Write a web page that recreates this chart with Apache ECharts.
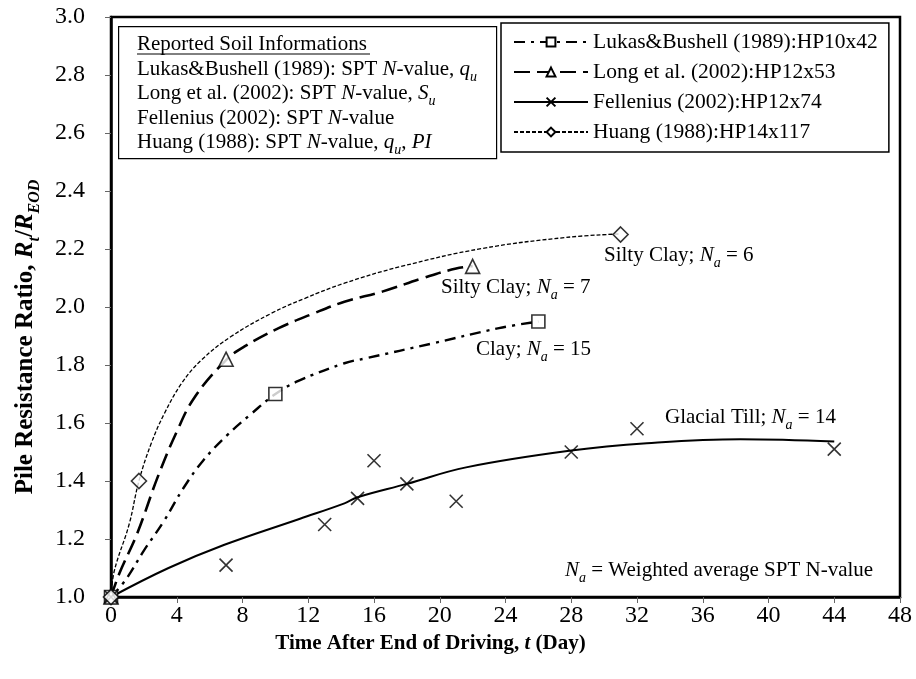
<!DOCTYPE html>
<html>
<head>
<meta charset="utf-8">
<script src="https://cdn.jsdelivr.net/npm/echarts@6/dist/echarts.min.js"></script>
<style>
html,body{margin:0;padding:0;background:#fff;}
#chart{width:916px;height:679px;}
</style>
</head>
<body>
<div id="chart"></div>
<script>
// measured points
const lukasT = [0, 10, 26];
const lukasR = [1.0, 1.70, 1.95];
const longT = [0, 7, 22];
const longR = [1.0, 1.82, 2.14];
const felT = [0, 7, 13, 15, 16, 18, 21, 28, 32, 44];
const felR = [1.0, 1.11, 1.25, 1.34, 1.47, 1.39, 1.33, 1.50, 1.58, 1.51];
const huangT = [0, 1.7, 31];
const huangR = [1.0, 1.40, 2.25];

// trend curves
const lukasTrendT = [0, 0.9, 2.0, 3.2, 4.4, 5.6, 7.1, 8.5, 10, 11.4, 14.2, 15.5, 19.6, 23.6, 26];
const lukasTrendR = [1.0, 1.06, 1.16, 1.26, 1.375, 1.47, 1.56, 1.63, 1.70, 1.745, 1.806, 1.823, 1.875, 1.927, 1.95];
const longTrendT = [0, 0.5, 1.6, 2.85, 4.0, 5.1, 7, 8.1, 10.2, 12.2, 14.2, 16.5, 19, 21, 22];
const longTrendR = [1.0, 1.08, 1.22, 1.415, 1.57, 1.69, 1.817, 1.863, 1.927, 1.975, 2.018, 2.053, 2.10, 2.133, 2.141];
const felTrendT = [0, 3.5, 6.9, 11.5, 14.2, 15, 18, 21.6, 28, 32.6, 38.3, 44];
const felTrendR = [1.0, 1.10, 1.18, 1.27, 1.323, 1.344, 1.39, 1.447, 1.505, 1.53, 1.544, 1.536];
const huangTrendT = [0, 0.2, 1.1, 1.7, 2.45, 3.25, 4.3, 5.5, 7.3, 9.75, 11.8, 14.2, 17.6, 22.6, 27.7, 31];
const huangTrendR = [1.0, 1.09, 1.25, 1.40, 1.53, 1.633, 1.737, 1.817, 1.898, 1.978, 2.03, 2.082, 2.139, 2.202, 2.24, 2.252];

const seriesNames = ['Lukas&Bushell (1989):HP10x42', 'Long et al. (2002):HP12x53', 'Fellenius (2002):HP12x74', 'Huang (1988):HP14x117'];
const infoTitle = 'Reported Soil Informations';
const infoLines = [
  '{n|Lukas&Bushell (1989): SPT }{i|N}{n|-value, }{i|q}{s|u}',
  '{n|Long et al. (2002): SPT }{i|N}{n|-value, }{i|S}{s|u}',
  '{n|Fellenius (2002): SPT }{i|N}{n|-value}',
  '{n|Huang (1988): SPT }{i|N}{n|-value, }{i|q}{s|u}{n|, }{i|PI}'
];

const FONT = '"Liberation Serif", "Times New Roman", serif';
const FS = 21;
const pair = (a, b) => a.map((v, i) => [v, b[i]]);
const crossPath = 'path://M0,0L10,10M0,10L10,0';

const rich = {
  i: {fontFamily: FONT, fontSize: FS, fontStyle: 'italic', color: '#000', verticalAlign: 'middle', lineHeight: 24},
  s: {fontFamily: FONT, fontSize: 14, fontStyle: 'italic', color: '#000', verticalAlign: 'bottom', lineHeight: 30},
  n: {fontFamily: FONT, fontSize: FS, color: '#000', verticalAlign: 'middle', lineHeight: 24}
};

function trendSeries(name, t, r, symbol, symSize, dash, width) {
  return {
    name: name, type: 'line', data: pair(t, r), smooth: 0.4,
    symbol: symbol, symbolSize: symSize, showSymbol: false,
    lineStyle: {color: '#000', width: width, type: dash},
    itemStyle: {color: '#fff', borderColor: '#000', borderWidth: 1.5},
    emphasis: {disabled: true}, z: 3
  };
}
function markerSeries(name, t, r, symbol, symSize, isCross) {
  return {
    name: name + ' data', type: 'scatter', data: pair(t, r),
    symbol: symbol, symbolSize: symSize,
    itemStyle: isCross ? {color: 'none', borderColor: '#000', borderWidth: 1.6} : {color: '#fff', borderColor: '#000', borderWidth: 1.6},
    emphasis: {disabled: true}, z: 5
  };
}

const infoGraphics = [
  {type: 'rect', left: 118, top: 26, shape: {width: 378, height: 132}, style: {fill: '#fff', stroke: '#000', lineWidth: 1.2}, z: 10},
  {type: 'text', left: 137, top: 34, z: 11, style: {text: infoTitle, fontFamily: FONT, fontSize: FS, fill: '#000'}},
  {type: 'line', z: 11, shape: {x1: 137, y1: 54, x2: 370, y2: 54}, style: {stroke: '#000', lineWidth: 1}}
];
infoLines.forEach((ln, k) => {
  infoGraphics.push({type: 'text', left: 137, top: 59 + k * 24.3, z: 11, style: {text: ln, rich: rich}});
});

const chart = echarts.init(document.getElementById('chart'), null, {renderer: 'canvas'});
const option = {
  backgroundColor: '#fff',
  animation: false,
  textStyle: {fontFamily: FONT},
  grid: {left: 111, right: 16, top: 17, bottom: 82, show: true, borderColor: '#000', borderWidth: 2.5, backgroundColor: 'transparent'},
  xAxis: {
    type: 'value', min: 0, max: 48, interval: 4,
    axisLine: {show: true, lineStyle: {color: '#000', width: 2.5}},
    axisTick: {show: true, inside: false, length: 6, lineStyle: {color: '#666', width: 1}},
    axisLabel: {fontFamily: FONT, fontSize: 24, color: '#000', margin: 7},
    splitLine: {show: false},
    name: 'Time After End of Driving, {b|t} (Day)',
    nameLocation: 'middle', nameGap: 31,
    nameTextStyle: {fontFamily: FONT, fontSize: 21, fontWeight: 'bold', color: '#000', padding: [0, 150, 0, 0],
      rich: {b: {fontFamily: FONT, fontSize: 21, fontWeight: 'bold', fontStyle: 'italic', color: '#000'}}}
  },
  yAxis: {
    type: 'value', min: 1.0, max: 3.0, interval: 0.2,
    axisLine: {show: true, lineStyle: {color: '#000', width: 2.5}},
    axisTick: {show: true, inside: false, length: 6, lineStyle: {color: '#666', width: 1}},
    axisLabel: {fontFamily: FONT, fontSize: 24, color: '#000', margin: 26, formatter: v => v.toFixed(1)},
    splitLine: {show: false},
    name: 'Pile Resistance Ratio, {b|R}{bs|t}/{b|R}{bs|EOD}',
    nameLocation: 'middle', nameGap: 68, nameRotate: 90,
    nameTextStyle: {fontFamily: FONT, fontSize: 25, fontWeight: 'bold', color: '#000', padding: [0, 60, 0, 0],
      rich: {
        b: {fontFamily: FONT, fontSize: 25, fontWeight: 'bold', fontStyle: 'italic', color: '#000', verticalAlign: 'middle', lineHeight: 28},
        bs: {fontFamily: FONT, fontSize: 16, fontWeight: 'bold', fontStyle: 'italic', color: '#000', verticalAlign: 'bottom', lineHeight: 34}
      }}
  },
  legend: {
    show: true, orient: 'vertical', left: 501, top: 23,
    data: seriesNames,
    itemWidth: 74, itemHeight: 11, itemGap: 8,
    backgroundColor: '#fff', borderColor: '#000', borderWidth: 1.5,
    padding: [8, 11, 9, 12],
    textStyle: {fontFamily: FONT, fontSize: 21.5, color: '#000'},
    selectedMode: false
  },
  series: [
    trendSeries(seriesNames[0], lukasTrendT, lukasTrendR, 'rect', 12, [11, 6, 3, 6], 2.4),
    trendSeries(seriesNames[1], longTrendT, longTrendR, 'triangle', 12, [16, 7], 2.6),
    trendSeries(seriesNames[2], felTrendT, felTrendR, crossPath, 12, 'solid', 2),
    trendSeries(seriesNames[3], huangTrendT, huangTrendR, 'diamond', 12, [4, 2], 1.3),
    markerSeries(seriesNames[0], lukasT, lukasR, 'rect', 13, false),
    markerSeries(seriesNames[1], longT, longR, 'triangle', 14, false),
    markerSeries(seriesNames[2], felT, felR, crossPath, 13, true),
    markerSeries(seriesNames[3], huangT, huangR, 'diamond', 15, false)
  ],
  graphic: infoGraphics.concat([
    {type: 'text', left: 604, top: 245, z: 11, style: {text: '{n|Silty Clay; }{i|N}{s|a}{n| = 6}', rich: rich}},
    {type: 'text', left: 441, top: 277, z: 11, style: {text: '{n|Silty Clay; }{i|N}{s|a}{n| = 7}', rich: rich}},
    {type: 'text', left: 476, top: 339, z: 11, style: {text: '{n|Clay; }{i|N}{s|a}{n| = 15}', rich: rich}},
    {type: 'text', left: 665, top: 407, z: 11, style: {text: '{n|Glacial Till; }{i|N}{s|a}{n| = 14}', rich: rich}},
    {type: 'text', left: 565, top: 560, z: 11, style: {text: '{i|N}{s|a}{n| = Weighted average SPT N-value}', rich: rich}}
  ])
};
chart.setOption(option);
</script>
</body>
</html>
